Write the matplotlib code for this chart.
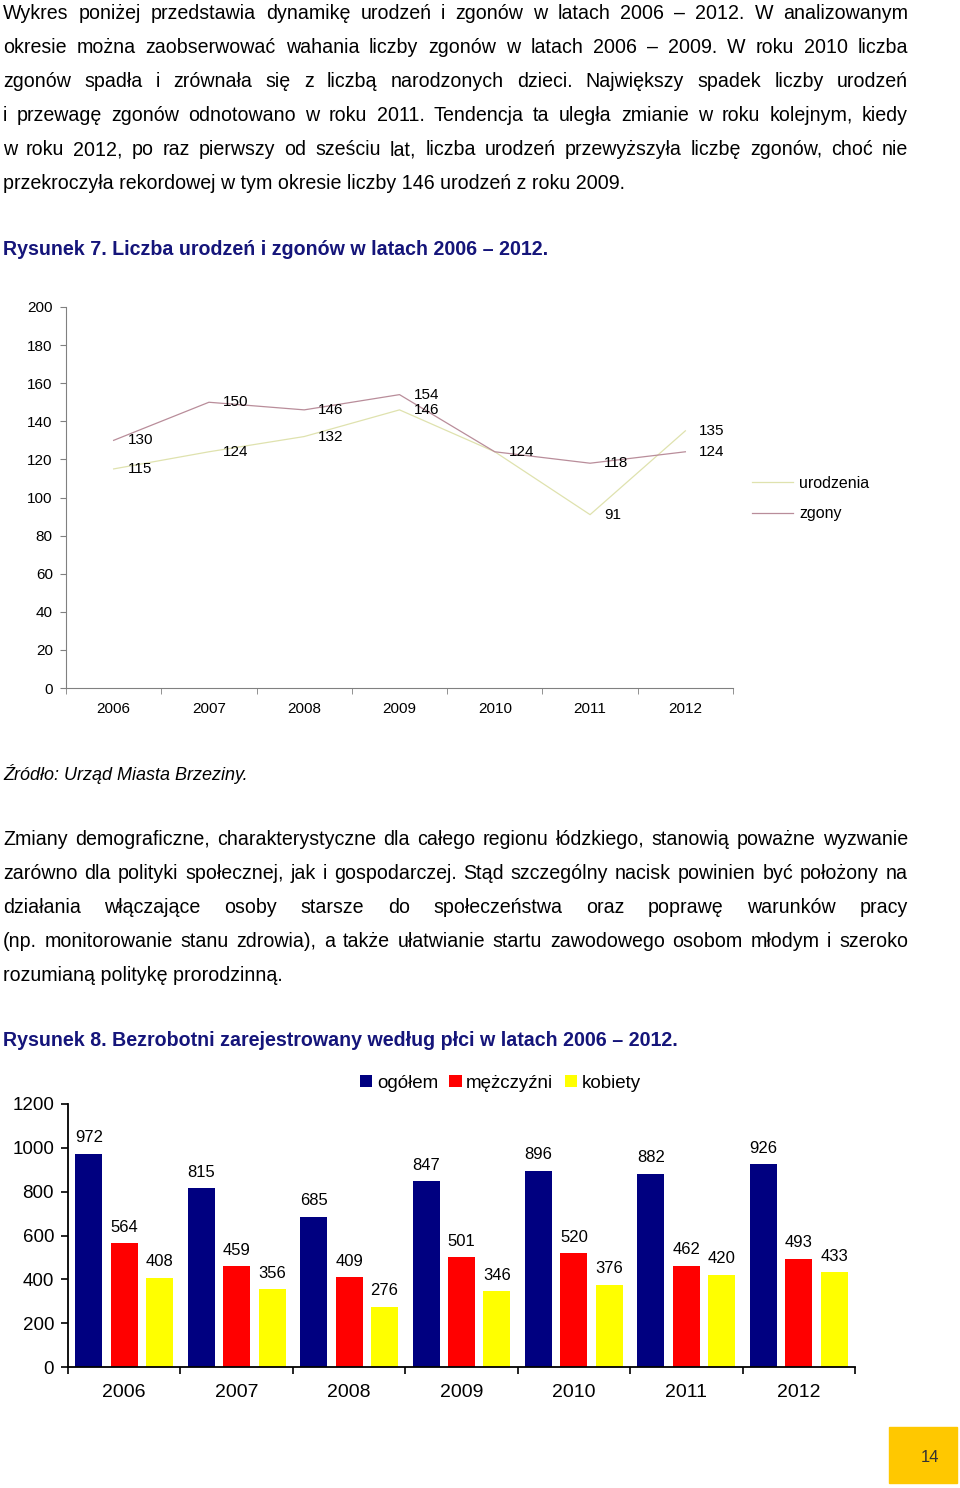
import matplotlib
matplotlib.use("Agg")
import matplotlib.pyplot as plt
from matplotlib.patches import Rectangle

plt.rcParams['font.family'] = ['Liberation Sans', 'DejaVu Sans']

W, H = 960, 1488

# --- data: figure 7 (births and deaths) ---
years = ['2006', '2007', '2008', '2009', '2010', '2011', '2012']
urodzenia = [115, 124, 132, 146, 124, 91, 135]
zgony = [130, 150, 146, 154, 124, 118, 124]

# --- data: figure 8 (registered unemployed by sex) ---
ogolem = [972, 815, 685, 847, 896, 882, 926]
mezczyzni = [564, 459, 409, 501, 520, 462, 493]
kobiety = [408, 356, 276, 346, 376, 420, 433]

para1 = [
    "Wykres poniżej przedstawia dynamikę urodzeń i zgonów w latach 2006 – 2012. W analizowanym",
    "okresie można zaobserwować wahania liczby zgonów w latach 2006 – 2009. W roku 2010 liczba",
    "zgonów spadła i zrównała się z liczbą narodzonych dzieci. Największy spadek liczby urodzeń",
    "i przewagę zgonów odnotowano w roku 2011. Tendencja ta uległa zmianie w roku kolejnym, kiedy",
    "w roku 2012, po raz pierwszy od sześciu lat, liczba urodzeń przewyższyła liczbę zgonów, choć nie",
    "przekroczyła rekordowej w tym okresie liczby 146 urodzeń z roku 2009.",
]
para2 = [
    "Zmiany demograficzne, charakterystyczne dla całego regionu łódzkiego, stanowią poważne wyzwanie",
    "zarówno dla polityki społecznej, jak i gospodarczej. Stąd szczególny nacisk powinien być położony na",
    "działania włączające osoby starsze do społeczeństwa oraz poprawę warunków pracy",
    "(np. monitorowanie stanu zdrowia), a także ułatwianie startu zawodowego osobom młodym i szeroko",
    "rozumianą politykę prorodzinną.",
]
title7 = "Rysunek 7. Liczba urodzeń i zgonów w latach 2006 – 2012."
title8 = "Rysunek 8. Bezrobotni zarejestrowany według płci w latach 2006 – 2012."
source7 = "Źródło: Urząd Miasta Brzeziny."

NAVY_TXT = '#15157a'
BODY = 14.1

fig = plt.figure(figsize=(W / 100, H / 100), dpi=100)
renderer = fig.canvas.get_renderer()


def fx(x):
    return x / W


def fy(y):
    return 1 - y / H


def text_line(s, y, justify=False, left=3, right=908, size=BODY, **kw):
    # y is the visual middle of the line in pixels
    base = fy(y + 7)
    if not justify:
        fig.text(fx(left), base, s, va='baseline', ha='left', fontsize=size, **kw)
        return
    words = s.split(' ')
    objs = [fig.text(0, base, w, va='baseline', ha='left', fontsize=size, **kw) for w in words]
    widths = [t.get_window_extent(renderer).width for t in objs]
    gap = (right - left - sum(widths)) / (len(words) - 1)
    x = left
    for t, w in zip(objs, widths):
        t.set_x(fx(x))
        x += w + gap


for i, s in enumerate(para1):
    text_line(s, 12 + i * 34, justify=(i < len(para1) - 1))
text_line(title7, 248, color=NAVY_TXT, fontweight='bold')
text_line(source7, 773, size=13, fontstyle='italic')
for i, s in enumerate(para2):
    text_line(s, 838 + i * 34, justify=(i < len(para2) - 1))
text_line(title8, 1039, color=NAVY_TXT, fontweight='bold')

# --- line chart ---
ax1 = fig.add_axes([fx(66), fy(688), (733 - 66) / W, (688 - 307) / H])
xs = list(range(len(years)))
c_ur = '#dfe2ae'
c_zg = '#b98d9a'
ax1.plot(xs, urodzenia, color=c_ur, lw=0.9, label='urodzenia')
ax1.plot(xs, zgony, color=c_zg, lw=0.9, label='zgony')
for i in xs:
    ax1.annotate(str(zgony[i]), (i, zgony[i]), xytext=(10, 0), textcoords='offset points',
                 ha='left', va='center', fontsize=11)
    if urodzenia[i] != zgony[i]:
        ax1.annotate(str(urodzenia[i]), (i, urodzenia[i]), xytext=(10, 0), textcoords='offset points',
                     ha='left', va='center', fontsize=11)
ax1.set_xlim(-0.5, len(years) - 0.5)
ax1.set_ylim(0, 200)
ax1.set_yticks(range(0, 201, 20))
ax1.set_xticks(xs)
ax1.set_xticklabels(years)
ax1.set_xticks([i + 0.5 for i in range(-1, len(years))], minor=True)
ax1.tick_params(axis='x', which='major', length=0, pad=10, labelsize=11)
ax1.tick_params(axis='x', which='minor', length=4, color='#808080')
ax1.tick_params(axis='y', length=4, color='#808080', pad=5.5, labelsize=11)
for s in ['top', 'right']:
    ax1.spines[s].set_visible(False)
for s in ['left', 'bottom']:
    ax1.spines[s].set_color('#808080')
    ax1.spines[s].set_linewidth(0.8)
ax1.legend(loc='upper left', bbox_to_anchor=(fx(752), fy(476)), bbox_transform=fig.transFigure,
           frameon=False, fontsize=11.5, handlelength=2.55, handletextpad=0.4, labelspacing=0.95,
           borderaxespad=0, borderpad=0)

# --- bar chart ---
ax2 = fig.add_axes([fx(68), fy(1367), (855 - 68) / W, (1367 - 1104) / H])
bw = 0.24
step = 0.315
series = [(ogolem, '#000080', 'ogółem'), (mezczyzni, '#ff0000', 'mężczyźni'), (kobiety, '#ffff00', 'kobiety')]
for k, (vals, col, lab) in enumerate(series):
    pos = [i + (k - 1) * step for i in xs]
    ax2.bar(pos, vals, width=bw, color=col, label=lab)
    for p, v in zip(pos, vals):
        ax2.annotate(str(v), (p, v), xytext=(0, 11.5), textcoords='offset points',
                     ha='center', va='center', fontsize=12)
ax2.set_xlim(-0.5, len(years) - 0.5)
ax2.set_ylim(0, 1200)
ax2.set_yticks(range(0, 1201, 200))
ax2.set_xticks(xs)
ax2.set_xticklabels(years)
ax2.set_xticks([i + 0.5 for i in range(-1, len(years))], minor=True)
ax2.tick_params(axis='x', which='major', length=0, pad=12, labelsize=14)
ax2.tick_params(axis='x', which='minor', length=5, width=1.2)
ax2.tick_params(axis='y', length=5, width=1.2, pad=5, labelsize=13.5)
for s in ['top', 'right']:
    ax2.spines[s].set_visible(False)
for s in ['left', 'bottom']:
    ax2.spines[s].set_linewidth(1.3)
ax2.legend(loc='center left', bbox_to_anchor=(fx(360), fy(1083)), bbox_transform=fig.transFigure,
           ncol=3, frameon=False, fontsize=13.5, handlelength=0.65, handleheight=0.65,
           handletextpad=0.25, columnspacing=0.6, borderaxespad=0, borderpad=0)

# --- page number box ---
fig.patches.append(Rectangle((fx(889), fy(1483)), (957 - 889) / W, (1483 - 1427) / H,
                             transform=fig.transFigure, color='#ffc800', zorder=0))
fig.text(fx(930), fy(1457), '14', ha='center', va='center', fontsize=12, color='#333333')

fig.savefig('out.png', dpi=100)
